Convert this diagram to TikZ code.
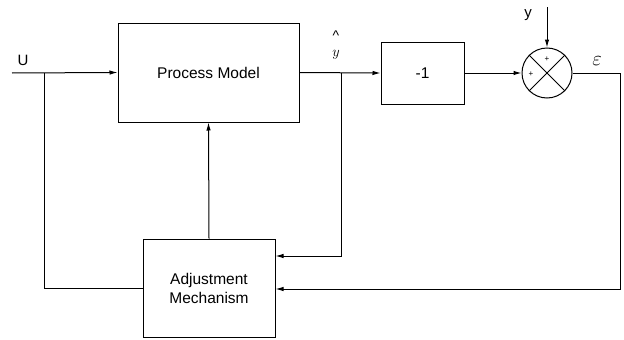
\documentclass[tikz,border=0pt]{standalone}
\usepackage{fontspec}
\setmainfont{Liberation Sans}
\usetikzlibrary{arrows.meta}
\begin{document}
\begin{tikzpicture}[x=1pt,y=-1pt,
  line width=1pt,
  blk/.style={draw, rectangle, inner sep=0pt, font=\fontsize{15.5}{19}\selectfont, align=center},
  arr/.style={-{Latex[length=8pt,width=4.5pt]}},
  lbl/.style={inner sep=0pt, font=\fontsize{15}{18}\selectfont}]
\useasboundingbox (0,0) rectangle (624,340);
% blocks
\node[blk, minimum width=181pt, minimum height=99pt] (pm) at (208.5,72.5) {Process Model};
\node[blk, minimum width=83pt, minimum height=62pt] (m1) at (422.5,73) {-1};
\node[draw, circle, minimum size=50pt, inner sep=0pt] (sum) at (547,73) {};
\node[blk, minimum width=132pt, minimum height=98pt] (adj) at (209,288) {Adjustment\\Mechanism};
% cross in summing junction
\draw (sum.north west) -- (sum.south east);
\draw (sum.north east) -- (sum.south west);
\node[inner sep=0pt, font=\fontsize{8}{8}\selectfont] (p1) at (547,59) {+};
\node[inner sep=0pt, font=\fontsize{8}{8}\selectfont] (p2) at (531,74) {+};
% coordinates
\coordinate (uin) at (12,73);
\coordinate (lb) at (44,73);
\coordinate (yb) at (341,73);
\coordinate (ytop) at (547,7);
\coordinate (er) at (620,73);
% labels
\node[lbl] (ulbl) at (23,60) {U};
\node[lbl] (ylbl) at (528,15) {y};
\node[inner sep=0pt, align=center, font=\fontsize{14}{15}\selectfont] (yhat) at (336,45) {\textasciicircum\\[1pt]$y$};
\node[inner sep=0pt, font=\fontsize{22}{22}\selectfont] (eps) at (597,61) {$\varepsilon$};
% connectors
\draw[arr] (uin) -- (pm.west);
\draw (lb) |- (adj.west);
\draw[arr] (pm.east) -- (m1.west);
\draw[arr] (yb) |- (adj.east |- 0,256);
\draw[arr] (m1.east) -- (sum.west);
\draw[arr] (ytop) -- (sum.north);
\draw[arr] (sum.east) -- (er) |- (adj.east |- 0,289);
\draw[arr] (adj.north) -- (pm.south);
\end{tikzpicture}
\end{document}
